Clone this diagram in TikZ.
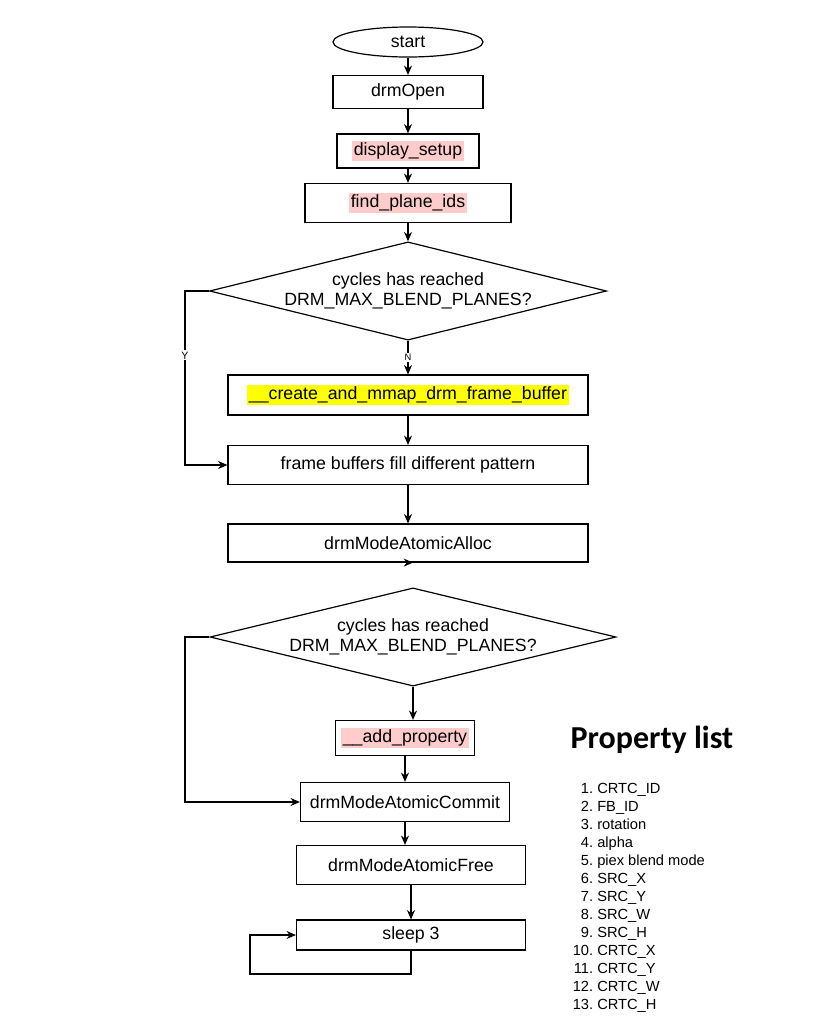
\documentclass[tikz,border=0pt]{standalone}
\usepackage{fontspec}
\setmainfont{Liberation Sans}
\newfontfamily\titlefont{Carlito}
\usetikzlibrary{shapes.geometric,arrows.meta}
\definecolor{hlpink}{RGB}{255,204,204}
\definecolor{hlyellow}{RGB}{255,255,0}
\tikzset{
  flow/.style={draw,line width=0.9pt,minimum height=#1*0.75pt,inner sep=0pt,font=\fontsize{13.3}{15}\selectfont},
  flow/.default=38,
  decision/.style={draw,line width=0.9pt,diamond,aspect=4,inner sep=0pt,font=\fontsize{13.3}{15}\selectfont,align=center},
  arrow/.style={line width=0.9pt,-{Stealth[length=7pt,width=6pt]}},
  mark/.style={fill=#1,inner sep=1pt}
}
\begin{document}
\begin{tikzpicture}[x=0.75pt,y=-0.75pt]
  \useasboundingbox (0,0) rectangle (838,1033);
  %Main column
  \node[flow=30,ellipse,minimum width=150*0.75pt] (start) at (408,42) {start};
  \node[flow=33,minimum width=150*0.75pt] (open) at (408,92) {drmOpen};
  \node[flow=34,minimum width=142*0.75pt] (setup) at (408,151) {\setlength\fboxsep{1.5pt}\colorbox{hlpink}{display\_setup}};
  \node[flow=39,minimum width=206*0.75pt] (find) at (408,203) {\setlength\fboxsep{1.5pt}\colorbox{hlpink}{find\_plane\_ids}};
  \node[decision,minimum width=397*0.75pt,minimum height=98*0.75pt] (cycA) at (408,291) {cycles has reached\\DRM\_MAX\_BLEND\_PLANES?};
  \node[flow=40,minimum width=360*0.75pt] (create) at (408,395) {\setlength\fboxsep{1.5pt}\colorbox{hlyellow}{\_\_create\_and\_mmap\_drm\_frame\_buffer}};
  \node[flow=39,minimum width=360*0.75pt] (fill) at (408,465) {frame buffers fill different pattern};
  \node[flow=38,minimum width=360*0.75pt] (alloc) at (408,543) {drmModeAtomicAlloc};
  \node[decision,minimum width=406*0.75pt,minimum height=93*0.75pt] (cycB) at (413,637) {cycles has reached\\DRM\_MAX\_BLEND\_PLANES?};
  \node[flow=35,minimum width=139*0.75pt] (addprop) at (405,738) {\setlength\fboxsep{1.5pt}\colorbox{hlpink}{\_\_add\_property}};
  \node[flow=39,minimum width=209*0.75pt] (commit) at (405,802) {drmModeAtomicCommit};
  \node[flow=39,minimum width=229*0.75pt] (free) at (411,865) {drmModeAtomicFree};
  \node[flow=30,minimum width=229*0.75pt] (sleep) at (411,935) {sleep 3};
  %Connectors
  \draw[arrow] (start) -- (open);
  \draw[arrow] (open) -- (setup);
  \draw[arrow] (setup) -- (find);
  \draw[arrow] (find) -- (cycA);
  \draw[arrow] (cycA) -- node[fill=white,inner sep=1pt,font=\scriptsize]{N} (create);
  \draw[arrow] (create) -- (fill);
  \draw[arrow] (fill) -- (alloc);
  \draw[arrow] (alloc.south) -- (alloc.south-|cycB.north);
  \draw[arrow] (cycB.south) -- (cycB.south|-addprop.north);
  \draw[arrow] (addprop) -- (commit);
  \draw[arrow] (commit.south) -- (commit.south|-free.north);
  \draw[arrow] (free) -- (sleep);
  \draw[arrow] (cycA.west) -- (185,291) -- node[fill=white,inner sep=1pt,font=\footnotesize,pos=0.37]{Y} (185,465) -- (fill.west);
  \draw[arrow] (cycB.west) -- (185,637) -- (185,802) -- (commit.west);
  \draw[arrow] (sleep.south) -- (411,974) -- (250,974) -- (250,935) -- (sleep.west);
  %Property list
  \node[anchor=west,font=\titlefont\bfseries\fontsize{24}{28}\selectfont] (title) at (566,740) {Property list};
  \foreach \lbl [count=\i] in {CRTC\_ID,FB\_ID,rotation,alpha,piex blend mode,SRC\_X,SRC\_Y,SRC\_W,SRC\_H,CRTC\_X,CRTC\_Y,CRTC\_W,CRTC\_H}
    \node[anchor=base west,font=\fontsize{11}{12}\selectfont,inner sep=0pt] (prop\i) at (597,775+18*\i) {\llap{\i.\ }\lbl};
\end{tikzpicture}
\end{document}
